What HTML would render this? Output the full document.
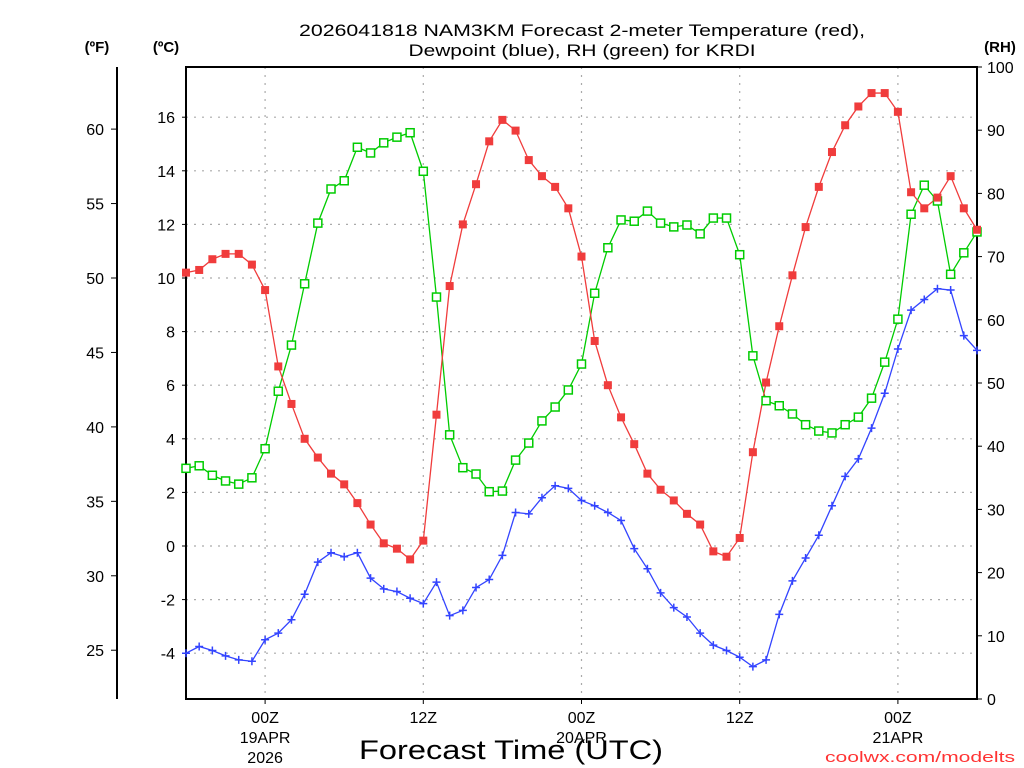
<!DOCTYPE html>
<html><head><meta charset="utf-8"><style>
html,body{margin:0;padding:0;background:#fff;}
svg{display:block;font-family:"Liberation Sans",sans-serif;}
</style></head><body>
<svg id="chart" width="1024" height="768" viewBox="0 0 1024 768">
<g id="grid"></g>
<g id="axes"></g>
<g id="series"></g>
<text x="582" y="36" text-anchor="middle" font-size="17" textLength="566" lengthAdjust="spacingAndGlyphs">2026041818 NAM3KM Forecast 2-meter Temperature (red),</text>
<text x="582" y="56" text-anchor="middle" font-size="17" textLength="347" lengthAdjust="spacingAndGlyphs">Dewpoint (blue), RH (green) for KRDI</text>
<text x="97" y="52" text-anchor="middle" font-size="15" font-weight="bold">(ºF)</text>
<text x="166" y="52" text-anchor="middle" font-size="15" font-weight="bold">(ºC)</text>
<text x="1000" y="52" text-anchor="middle" font-size="15" font-weight="bold">(RH)</text>
<text x="511" y="759" text-anchor="middle" font-size="27" textLength="304" lengthAdjust="spacingAndGlyphs">Forecast Time (UTC)</text>
<text x="1015" y="762" text-anchor="end" font-size="15" fill="#ff3333" textLength="190" lengthAdjust="spacingAndGlyphs">coolwx.com/modelts</text>
</svg>
<script>
const tempC=[10.2,10.3,10.7,10.9,10.9,10.5,9.55,6.7,5.3,4.0,3.3,2.7,2.3,1.6,0.8,0.1,-0.1,-0.5,0.2,4.9,9.7,12.0,13.5,15.1,15.9,15.5,14.4,13.8,13.4,12.6,10.8,7.65,6.0,4.8,3.8,2.7,2.1,1.7,1.2,0.8,-0.2,-0.4,0.3,3.5,6.1,8.2,10.1,11.9,13.4,14.7,15.7,16.4,16.9,16.9,16.2,13.2,12.6,13.0,13.8,12.6,11.8];
const dewC=[-4.0,-3.75,-3.9,-4.1,-4.25,-4.3,-3.5,-3.25,-2.75,-1.8,-0.6,-0.25,-0.4,-0.25,-1.2,-1.6,-1.7,-1.95,-2.15,-1.35,-2.6,-2.4,-1.55,-1.25,-0.35,1.25,1.2,1.8,2.25,2.15,1.7,1.5,1.25,0.95,-0.1,-0.85,-1.75,-2.3,-2.65,-3.25,-3.7,-3.9,-4.15,-4.5,-4.25,-2.55,-1.3,-0.45,0.4,1.5,2.6,3.25,4.4,5.7,7.35,8.8,9.2,9.6,9.55,7.85,7.3];
const rh=[36.5,36.9,35.4,34.5,34.0,35.0,39.6,48.7,56.0,65.7,75.3,80.7,82.0,87.3,86.4,88.0,88.9,89.6,83.5,63.6,41.8,36.6,35.6,32.8,32.9,37.8,40.5,44.0,46.2,48.9,53.0,64.2,71.4,75.8,75.6,77.2,75.3,74.7,75.0,73.6,76.1,76.1,70.3,54.3,47.2,46.4,45.1,43.4,42.4,42.1,43.4,44.6,47.6,53.3,60.1,76.7,81.3,78.8,67.2,70.6,73.9];
const cTicks=[-4,-2,0,2,4,6,8,10,12,14,16];
const fTicks=[25,30,35,40,45,50,55,60];
const rhTicks=[0,10,20,30,40,50,60,70,80,90,100];
const timeTickHours=[6,18,30,42,54];
const timeTickLabels=[["00Z","19APR","2026"],["12Z"],["00Z","20APR"],["12Z"],["00Z","21APR"]];

const L=186,R=977,T=67,B=699;
const xH=h=>L+h*(R-L)/60;
const yC=c=>546-c*26.8;
const yF=f=>yC((f-32)/1.8);
const yRH=v=>B-v*(B-T)/100;
const NS="http://www.w3.org/2000/svg";
function mk(tag,attrs,parent,txt){const e=document.createElementNS(NS,tag);for(const k in attrs)e.setAttribute(k,attrs[k]);if(txt!==undefined)e.textContent=txt;parent.appendChild(e);return e;}
const grid=document.getElementById('grid'),axes=document.getElementById('axes'),series=document.getElementById('series');

cTicks.forEach(c=>{
  const l=mk('line',{x1:L,x2:R,y1:yC(c),y2:yC(c),stroke:'#aaa','stroke-width':1.2,'stroke-dasharray':'2,6'},grid);
  
  
  const t=mk('line',{x1:L-4,x2:L,y1:yC(c),y2:yC(c),stroke:'#000'},axes);
  
  
  const tx=mk('text',{x:175,y:yC(c)+6,'text-anchor':'end','font-size':16},axes,String(c));
  
  
});
timeTickHours.forEach((h,i)=>{
  const l=mk('line',{x1:xH(h),x2:xH(h),y1:T,y2:B,stroke:'#aaa','stroke-width':1.2,'stroke-dasharray':'2,6'},grid);
  
  
  const t=mk('line',{x1:xH(h),x2:xH(h),y1:B,y2:B+5,stroke:'#000'},axes);
  
  
  timeTickLabels[i].forEach((s,j)=>{
    const tx=mk('text',{x:xH(h),y:723+j*20,'text-anchor':'middle','font-size':16},axes,s);
    
    
  });
});
fTicks.forEach(f=>{
  const t=mk('line',{x1:111,x2:117,y1:yF(f),y2:yF(f),stroke:'#000'},axes);
  
  
  const tx=mk('text',{x:104,y:yF(f)+6,'text-anchor':'end','font-size':16},axes,String(f));
  
  
});
rhTicks.forEach(v=>{
  const t=mk('line',{x1:R,x2:R+5,y1:yRH(v),y2:yRH(v),stroke:'#000'},axes);
  
  
  const tx=mk('text',{x:987,y:yRH(v)+6,'text-anchor':'start','font-size':16},axes,String(v));
  
  
});
const fl=mk('line',{x1:117,x2:117,y1:T,y2:B,stroke:'#000','stroke-width':2},axes);


const fr=mk('rect',{x:L,y:T,width:R-L,height:B-T,fill:'none',stroke:'#000','stroke-width':2},axes);



function drawLine(vals,yf,color,name){
  const p=mk('polyline',{points:vals.map((v,i)=>xH(i)+','+yf(v)).join(' '),fill:'none',stroke:color,'stroke-width':1.3},series);
  
  
}
drawLine(rh,yRH,'#00cc00','rh');
drawLine(dewC,yC,'#3344ff','dewpoint');
drawLine(tempC,yC,'#f03c3c','temperature');
rh.forEach((v,i)=>{
  const m=mk('rect',{x:xH(i)-4,y:yRH(v)-4,width:8,height:8,fill:'#fff',stroke:'#00cc00','stroke-width':1.5},series);
  
  
});
dewC.forEach((v,i)=>{
  const x=xH(i),y=yC(v);
  const m=mk('path',{d:`M${x-4},${y}H${x+4}M${x},${y-4}V${y+4}`,stroke:'#3344ff','stroke-width':1.5,fill:'none'},series);
  
  
});
tempC.forEach((v,i)=>{
  const m=mk('rect',{x:xH(i)-4,y:yC(v)-4,width:8,height:8,fill:'#f03c3c'},series);
  
  
});
</script>
</body></html>
